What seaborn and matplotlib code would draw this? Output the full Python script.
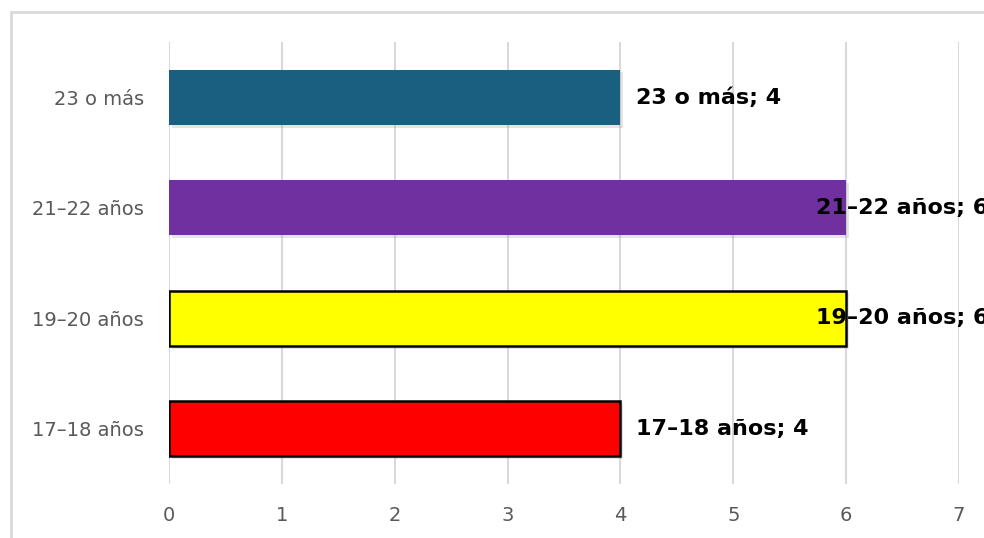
import matplotlib
matplotlib.use("Agg")
import matplotlib.pyplot as plt
import matplotlib.patheffects as pe
from matplotlib.patches import Rectangle
import seaborn as sns
import pandas as pd

# data
categories = ["17–18 años", "19–20 años", "21–22 años", "23 o más"]
counts = [4, 6, 6, 4]
bar_colors = ["#ff0000", "#ffff00", "#7030a0", "#1a5f80"]
edge_colors = ["black", "black", "none", "none"]
x_ticks = [0, 1, 2, 3, 4, 5, 6, 7]

sns.set_style("white")
plt.rcParams['font.family'] = ['DejaVu Sans']

df = pd.DataFrame({"cat": categories, "n": counts})
order = categories[::-1]

fig = plt.figure(figsize=(9.84, 5.38), dpi=100)
ax = fig.add_axes([0.1717, 0.1004, 0.8029, 0.8215])

sns.barplot(data=df, x="n", y="cat", order=order, hue="cat", hue_order=order,
            palette=dict(zip(categories, bar_colors)), orient="h", saturation=1,
            width=0.5, legend=False, ax=ax, zorder=3)

# edges + soft shadow per bar
for patch, cat in zip(ax.patches, order):
    ec = edge_colors[categories.index(cat)]
    if ec != "none":
        patch.set_edgecolor(ec)
        patch.set_linewidth(1.8)
    else:
        patch.set_linewidth(0)
    patch.set_path_effects([pe.SimplePatchShadow(offset=(2, -2), shadow_rgbFace="#999999", alpha=0.25),
                            pe.Normal()])

# value labels ("categoria; valor")
for patch, cat in zip(ax.patches, order):
    val = counts[categories.index(cat)]
    y = patch.get_y() + patch.get_height() / 2
    off = 16 if val < 6 else -30
    ax.annotate(f"{cat}; {val}", xy=(val, y), xytext=(off, 0), textcoords="offset pixels",
                ha="left", va="center", fontsize=16, fontweight="bold", color="black",
                zorder=5, annotation_clip=False)

ax.set_xlim(0, 7)
ax.set_ylim(3.5, -0.5)
ax.set_xticks(x_ticks)
ax.set_xlabel("")
ax.set_ylabel("")
ax.xaxis.grid(True, color="#d9d9d9", linewidth=1.5, zorder=0)
ax.yaxis.grid(False)
ax.set_axisbelow(True)
for s in ax.spines.values():
    s.set_visible(False)
ax.tick_params(axis="both", length=0, labelsize=14, labelcolor="#595959")
ax.tick_params(axis="x", pad=16)
ax.tick_params(axis="y", pad=18)

# outer chart frame (clipped by figure edge)
fig.patches.append(Rectangle((11 / 984, -0.1), 1.2, 1 - 12 / 538 + 0.1, transform=fig.transFigure,
                             fill=False, edgecolor="#d9d9d9", linewidth=2, zorder=0))

fig.savefig("out.png", dpi=100)
